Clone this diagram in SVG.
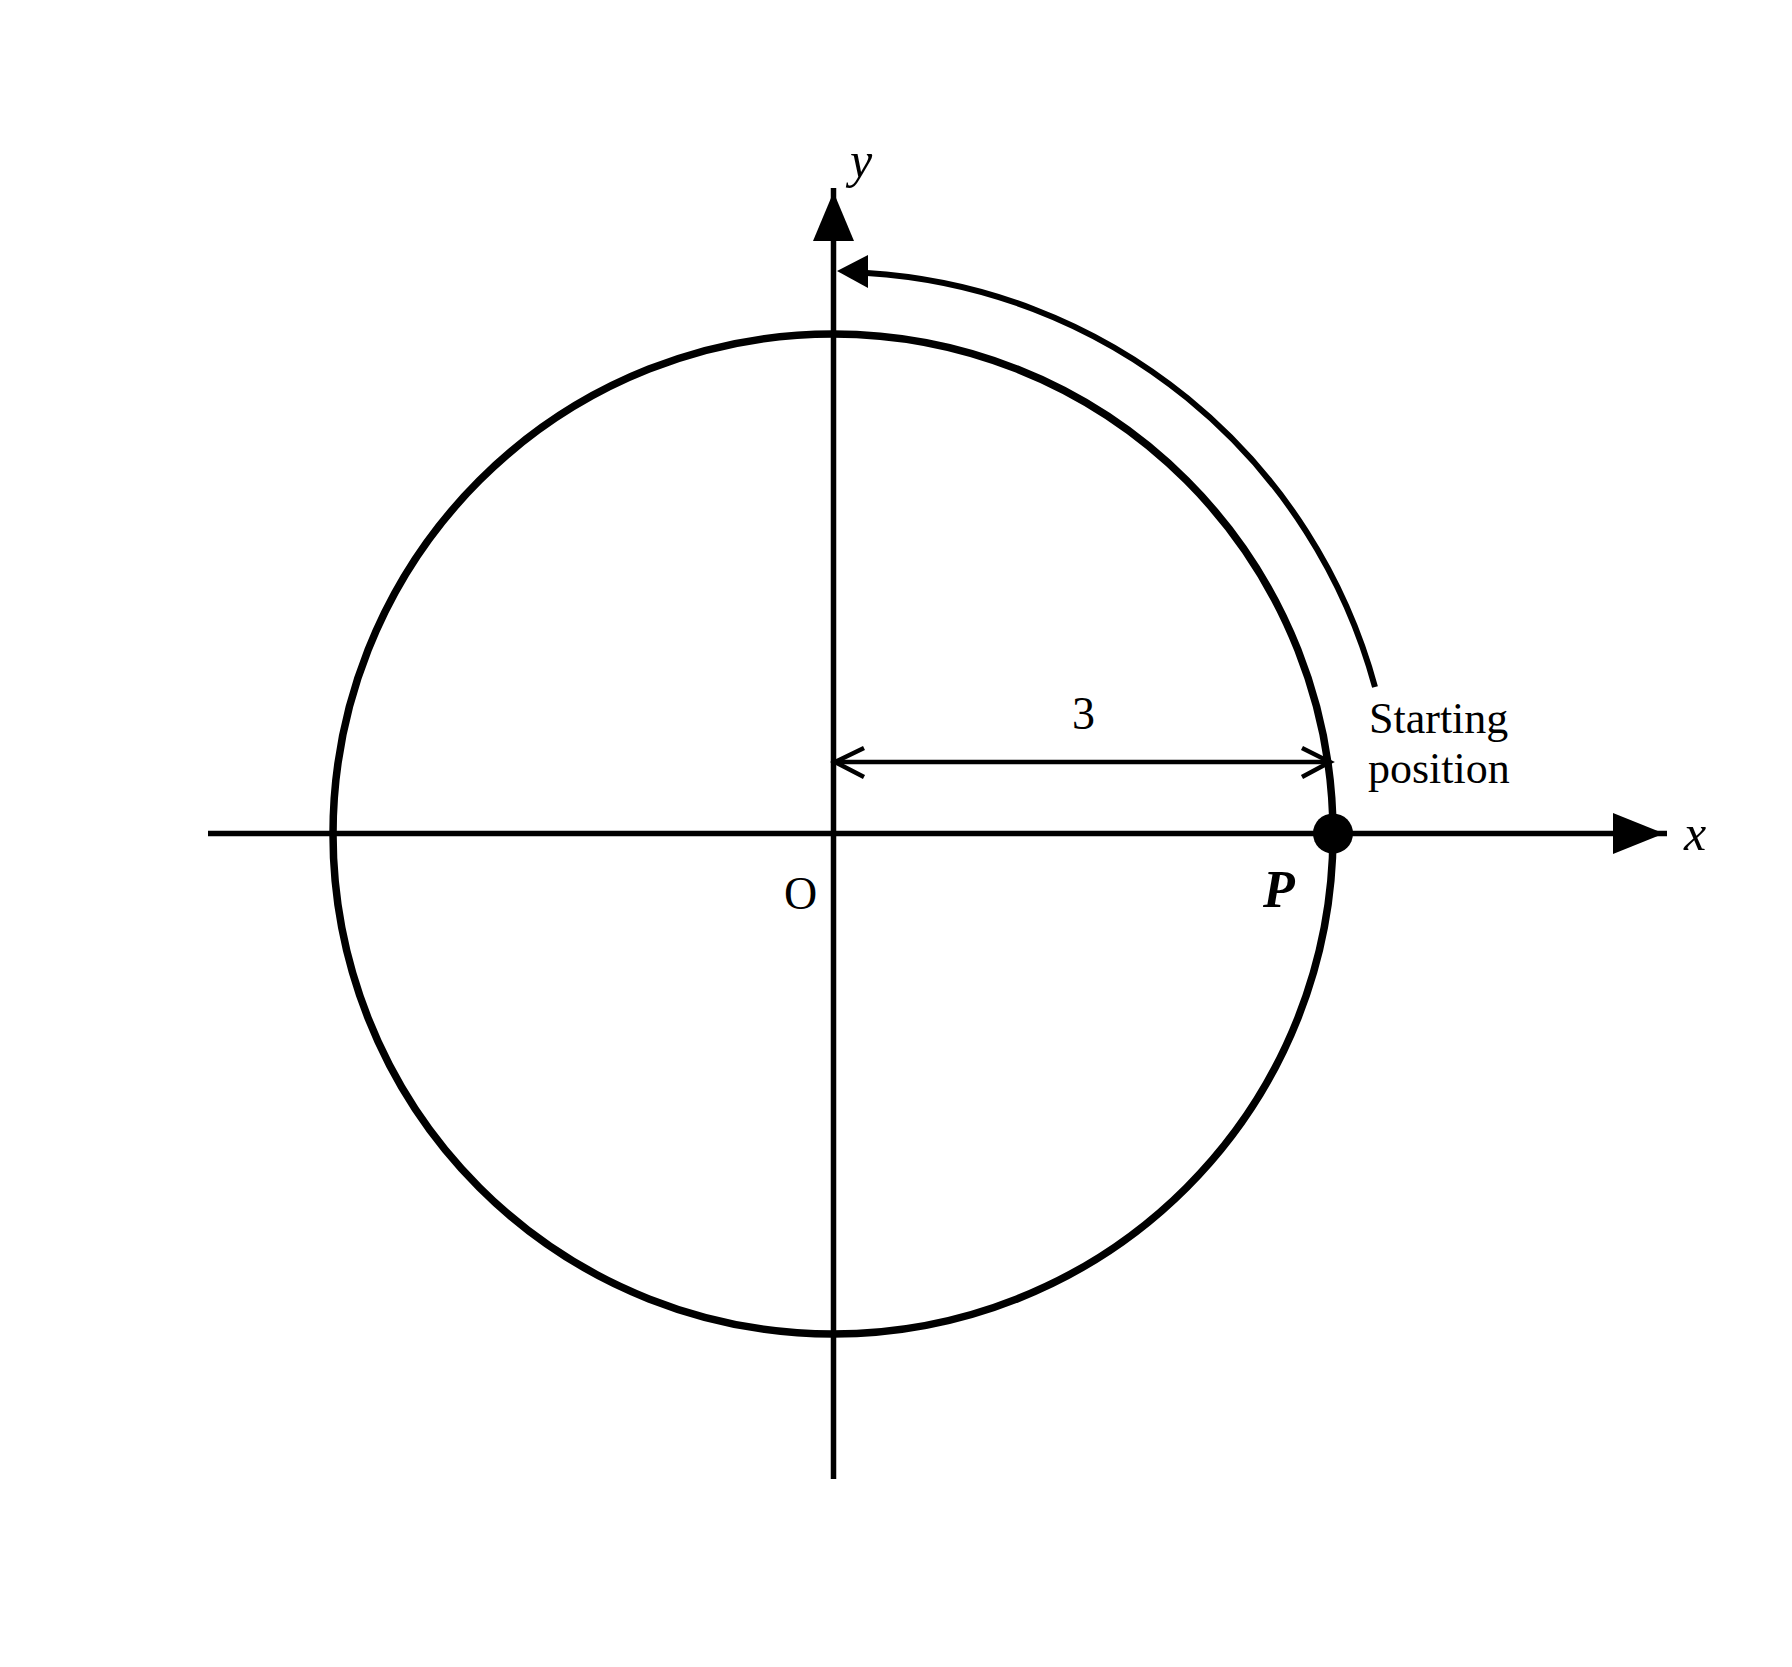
<svg xmlns="http://www.w3.org/2000/svg" width="1792" height="1667" viewBox="0 0 1792 1667">
<style>
.ax{stroke:#000;stroke-width:5.5;fill:none}
.circ{stroke:#000;stroke-width:7.5;fill:none}
.arc{stroke:#000;stroke-width:6;fill:none}
.dim{stroke:#000;stroke-width:4.5;fill:none}
.hd{fill:#000;stroke:none}
text{font-family:"Liberation Serif","Times New Roman",serif;fill:#000}
.it{font-style:italic}
</style>
<rect width="1792" height="1667" fill="#fff"/>
<g id="circle">
<circle class="circ" cx="833" cy="834" r="500"/>
</g>
<g id="connectors">
<g id="x-axis">
<line class="ax" x1="208" y1="833.5" x2="1667" y2="833.5"/>
<polygon class="hd" points="1664,833.5 1613,813 1613,854"/>
</g>
<g id="y-axis">
<line class="ax" x1="833.5" y1="1479" x2="833.5" y2="188"/>
<polygon class="hd" points="833.5,192 813,241 854,241"/>
</g>
<g id="rotation-arc">
<path class="arc" d="M1375,687 A562,562 0 0 0 867,273"/>
<polygon class="hd" points="837,271 868,255 868,288"/>
</g>
<g id="radius-dimension">
<line class="dim" x1="835" y1="762" x2="1329" y2="762"/>
<polyline class="dim" points="864,748 835,762 864,777"/>
<polyline class="dim" points="1302,748 1330,762 1302,777"/>
</g>
</g>
<g id="point-P">
<circle class="hd" cx="1333" cy="833.5" r="20"/>
<text x="1263" y="907" font-size="52" font-weight="bold" font-style="italic">P</text>
</g>
<g id="labels">
<text class="it" x="850" y="177" font-size="50">y</text>
<text class="it" x="1684" y="850" font-size="50">x</text>
<text x="784" y="909" font-size="46">O</text>
<text x="1072" y="729" font-size="46">3</text>
<text x="1369" y="733" font-size="44">Starting</text>
<text x="1368" y="783" font-size="44">position</text>
</g>
</svg>
